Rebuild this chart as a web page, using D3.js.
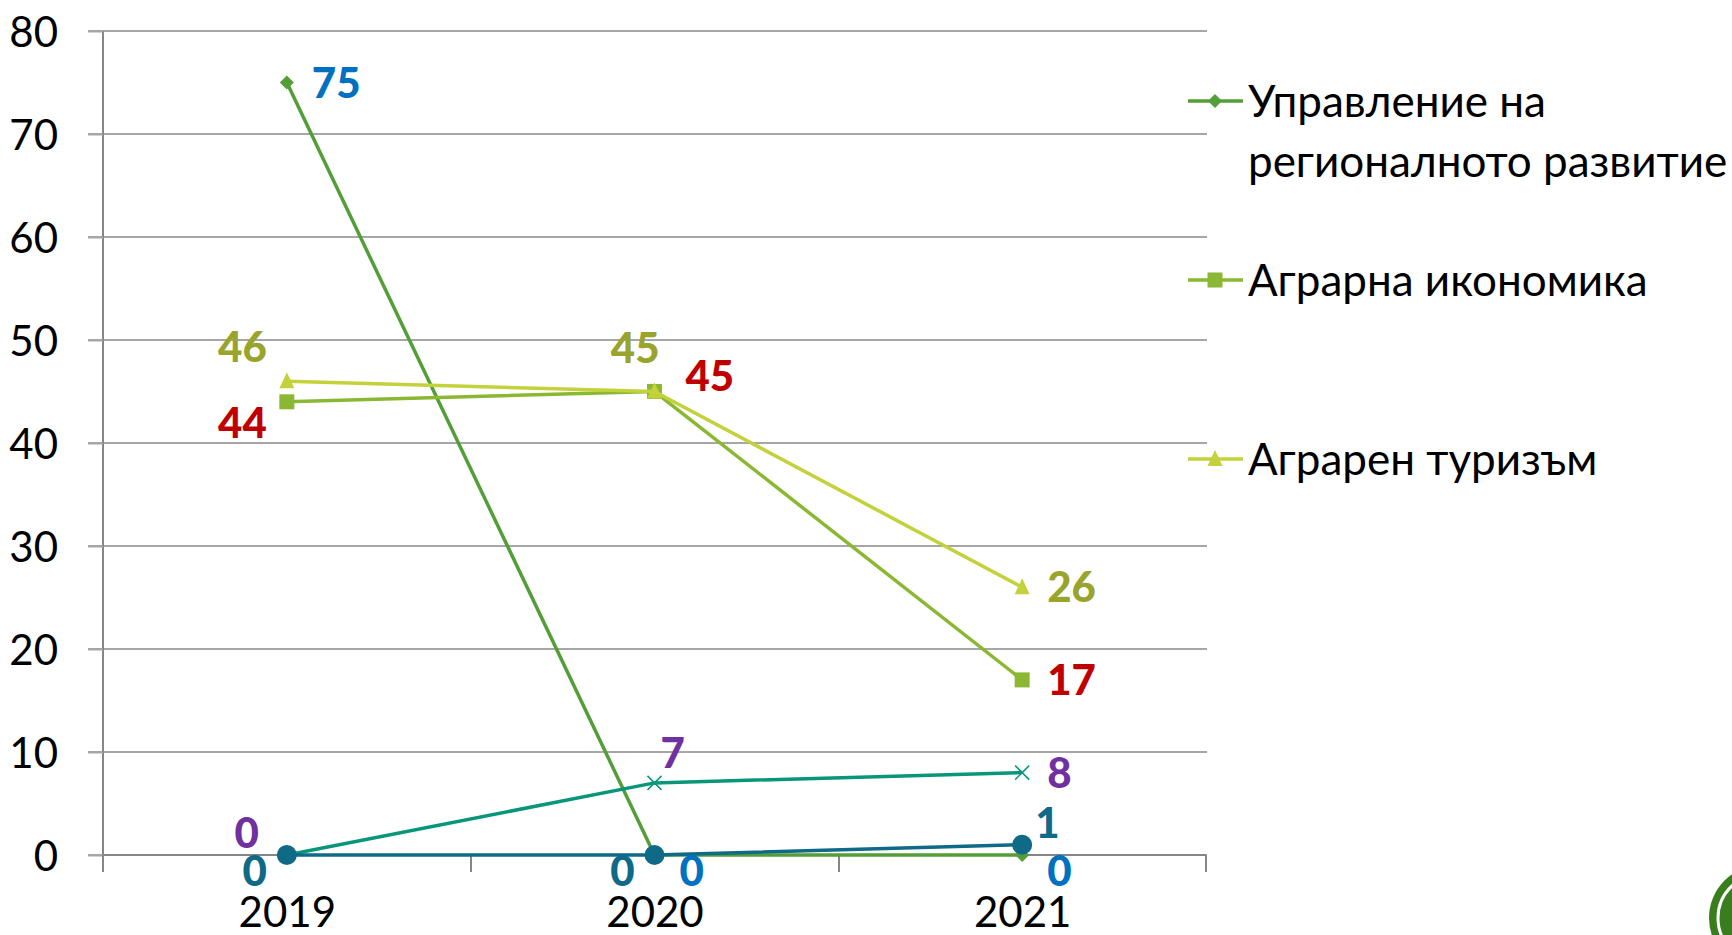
<!DOCTYPE html>
<meta charset="utf-8">
<style>
body { margin: 0; background: #fff; }
text { font-family: Lato, "Open Sans", sans-serif; }
.tick text { font-size: 42px; fill: #000; }
.lbl { font-size: 42px; font-weight: 900; }
.leg { font-size: 44px; fill: #000; }
</style>
<svg width="1732" height="935"></svg>
<script src="https://cdnjs.cloudflare.com/ajax/libs/d3/7.8.5/d3.min.js"></script>
<script>

var years = ["2019", "2020", "2021"];
var yTicks = [0, 10, 20, 30, 40, 50, 60, 70, 80];

var upravlenie = [75, 0, 0];
var ikonomika = [44, 45, 17];
var turizam = [46, 45, 26];
var seriesX = [0, 7, 8];
var seriesO = [0, 0, 1];

var names = ["Управление на|регионалното развитие", "Аграрна икономика", "Аграрен туризъм"];

var series = [
  {vals: upravlenie, color: "#549E39", marker: "diamond", lc: "#0070C0", pos: ["r", "br", "br"], legend: 0},
  {vals: ikonomika, color: "#8AB833", marker: "square", lc: "#C00000", pos: ["bl2", "tr2", "r"], legend: 1},
  {vals: turizam, color: "#C3D23A", marker: "triangle", lc: "#98A42C", pos: ["tl", "tl2", "r"], legend: 2},
  {vals: seriesX, color: "#07967A", marker: "x", lc: "#7030A0", pos: ["tl3", "tr", "r"]},
  {vals: seriesO, color: "#0E6A86", marker: "circle", lc: "#0E6A86", pos: ["bl", "bl", "tr3"]}
];

var svg = d3.select("svg");

var x = d3.scalePoint().domain(years).range([103, 1206]).padding(0.5);
var y = d3.scaleLinear().domain([0, 80]).range([855, 31]);

// gridlines
svg.append("g").selectAll("line").data(yTicks).enter().append("line")
  .attr("x1", 88).attr("x2", 1207)
  .attr("y1", function(d) { return y(d); }).attr("y2", function(d) { return y(d); })
  .attr("stroke", "#A6A6A6").attr("stroke-width", 2);

// y axis
var yAxis = svg.append("g").attr("class", "tick").attr("transform", "translate(103,0)")
  .call(d3.axisLeft(y).tickValues(yTicks).tickSize(15).tickPadding(30));
yAxis.select(".domain").attr("stroke", "#868686").attr("stroke-width", 2).attr("d", "M0,855V31");
yAxis.selectAll(".tick line").attr("stroke", "#A6A6A6").attr("stroke-width", 2);
yAxis.selectAll("text").style("font-size", "42px").attr("dy", "0.36em");

// x axis
var bounds = [103, 471, 839, 1206];
var xAxis = svg.append("g").attr("class", "tick").attr("transform", "translate(0,855)")
  .call(d3.axisBottom(x).tickSize(0).tickPadding(42));
xAxis.select(".domain").attr("stroke", "#868686").attr("stroke-width", 2).attr("d", "M103,0H1206");
xAxis.selectAll("text").style("font-size", "42px");
svg.append("g").selectAll("line").data(bounds).enter().append("line")
  .attr("x1", function(d) { return d; }).attr("x2", function(d) { return d; })
  .attr("y1", 855).attr("y2", 872).attr("stroke", "#868686").attr("stroke-width", 2);

function marker(g, type, color) {
  if (type == "diamond") g.append("path").attr("d", "M0,-7L7,0L0,7L-7,0Z").attr("fill", color);
  if (type == "square") g.append("rect").attr("x", -7.5).attr("y", -7.5).attr("width", 15).attr("height", 15).attr("fill", color);
  if (type == "triangle") g.append("path").attr("d", "M0,-9L7.5,7L-7.5,7Z").attr("fill", color);
  if (type == "x") g.append("path").attr("d", "M-7,-7L7,7M-7,7L7,-7").attr("stroke", color).attr("stroke-width", 1.5);
  if (type == "circle") g.append("circle").attr("r", 10).attr("fill", color);
}

var line = d3.line().x(function(d, i) { return x(years[i]); }).y(function(d) { return y(d); });

var offs = {
  r: [25, 0, "start"], br: [25, 16, "start"], bl: [-20, 16, "end"], bl2: [-20, 21, "end"],
  tr: [6, -30, "start"], tr2: [31, -16, "start"], tr3: [13, -22, "start"],
  tl: [-20, -34, "end"], tl2: [5, -44, "end"], tl3: [-28, -22, "end"]
};

series.forEach(function(s) {
  svg.append("path").datum(s.vals).attr("d", line).attr("fill", "none")
    .attr("stroke", s.color).attr("stroke-width", 3.5);
  s.vals.forEach(function(v, i) {
    var g = svg.append("g").attr("transform", "translate(" + x(years[i]) + "," + y(v) + ")");
    marker(g, s.marker, s.color);
  });
});

series.forEach(function(s) {
  s.vals.forEach(function(v, i) {
    var o = offs[s.pos[i]];
    svg.append("text").attr("class", "lbl")
      .attr("x", x(years[i]) + o[0]).attr("y", y(v) + o[1]).attr("dy", "0.36em")
      .attr("text-anchor", o[2]).attr("fill", s.lc).text(v);
  });
});

// legend
var legY = [101, 280, 459];
series.filter(function(s) { return s.legend != null; }).forEach(function(s) {
  var ly = legY[s.legend];
  var g = svg.append("g");
  g.append("line").attr("x1", 1188).attr("x2", 1243).attr("y1", ly).attr("y2", ly)
    .attr("stroke", s.color).attr("stroke-width", 3.5);
  marker(g.append("g").attr("transform", "translate(1215," + ly + ")"), s.marker, s.color);
  names[s.legend].split("|").forEach(function(t, j) {
    g.append("text").attr("class", "leg").attr("x", 1248).attr("y", ly + j * 60).attr("dy", "0.36em").text(t);
  });
});

// logo corner
var logo = svg.append("g");
logo.append("circle").attr("cx", 1762).attr("cy", 918).attr("r", 53).attr("fill", "#3A7D1E");
logo.append("circle").attr("cx", 1762).attr("cy", 918).attr("r", 44).attr("fill", "none").attr("stroke", "#fff").attr("stroke-width", 3);

</script>
